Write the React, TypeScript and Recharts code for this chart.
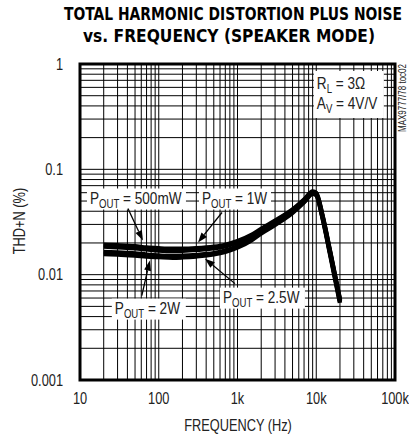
import React from 'react';
import { LineChart, Line, XAxis, YAxis, CartesianGrid, ReferenceArea, ReferenceDot } from 'recharts';

const freqHz = [20, 30, 50, 70, 100, 150, 200, 300, 500, 700, 1000, 1500, 2000, 3000, 5000, 7000, 9000, 10000, 12000, 15000, 20000];
const thd500mW = [0.0192, 0.019, 0.0186, 0.0181, 0.0178, 0.0176, 0.0176, 0.0178, 0.0184, 0.0192, 0.0208, 0.0238, 0.0272, 0.0325, 0.0415, 0.0515, 0.0615, 0.0595, 0.0365, 0.0166, 0.0058];
const thd1W = [0.0185, 0.0182, 0.0178, 0.0174, 0.017, 0.0168, 0.0169, 0.0172, 0.0178, 0.0186, 0.0202, 0.0232, 0.0266, 0.0318, 0.0408, 0.0508, 0.0608, 0.0588, 0.036, 0.0163, 0.0057];
const thd2W = [0.0164, 0.0162, 0.0159, 0.0155, 0.0152, 0.015, 0.0151, 0.0154, 0.016, 0.0169, 0.0186, 0.0217, 0.0252, 0.0303, 0.0393, 0.0493, 0.0594, 0.0575, 0.0353, 0.016, 0.0056];
const thd2p5W = [0.0157, 0.0155, 0.0152, 0.0149, 0.0147, 0.0145, 0.0146, 0.0149, 0.0156, 0.0165, 0.0181, 0.0212, 0.0247, 0.0297, 0.0387, 0.0487, 0.0588, 0.0569, 0.0347, 0.0156, 0.0054];

const xTicks = [10, 20, 30, 40, 50, 60, 70, 80, 90, 100, 200, 300, 400, 500, 600, 700, 800, 900, 1000, 2000, 3000, 4000, 5000, 6000, 7000, 8000, 9000, 10000, 20000, 30000, 40000, 50000, 60000, 70000, 80000, 90000, 100000];
const xLabels: Record<number, string> = { 10: '10', 100: '100', 1000: '1k', 10000: '10k', 100000: '100k' };
const yTicks = [0.001, 0.002, 0.003, 0.004, 0.005, 0.006, 0.007, 0.008, 0.009, 0.01, 0.02, 0.03, 0.04, 0.05, 0.06, 0.07, 0.08, 0.09, 0.1, 0.2, 0.3, 0.4, 0.5, 0.6, 0.7, 0.8, 0.9, 1];
const yLabels: Record<number, string> = { 0.001: '0.001', 0.01: '0.01', 0.1: '0.1', 1: '1' };

const data = freqHz.map((f, i) => ({ f, p500: thd500mW[i], p1: thd1W[i], p2: thd2W[i], p25: thd2p5W[i] }));

const FONT = "'Liberation Sans', Arial, sans-serif";
const TITLE_FONT = "'DejaVu Sans Condensed', sans-serif";
const SQUEEZE = 0.8;

// narrow text: Arial squeezed horizontally around its anchor point
const Narrow = ({ x, y, size, anchor = 'start', dy, children, rotate = 0 }: any) => (
  <text
    transform={`translate(${x},${y}) rotate(${rotate}) scale(${SQUEEZE},1)`}
    fontSize={size}
    fontFamily={FONT}
    textAnchor={anchor}
    dy={dy}
    fill="#222"
  >
    {children}
  </text>
);

const XTick = (props: any) => {
  const { x, y, payload } = props;
  const label = xLabels[payload.value];
  if (!label) return null;
  return <Narrow x={x} y={y} size={16} anchor="middle" dy="0.71em">{label}</Narrow>;
};

const YTick = (props: any) => {
  const { x, y, payload } = props;
  const label = yLabels[payload.value];
  if (!label) return null;
  return <Narrow x={x} y={y} size={16} anchor="end" dy="0.355em">{label}</Narrow>;
};

// callout: arrow from tail (relative to the data point) to the point, and a white-boxed label
const callout = (rest: string, tail: [number, number], text: [number, number], w: number) => (props: any) => {
  const { cx, cy } = props;
  const tx = cx + tail[0];
  const ty = cy + tail[1];
  const len = Math.hypot(cx - tx, cy - ty);
  const ux = (cx - tx) / len;
  const uy = (cy - ty) / len;
  const bx = cx - ux * 10;
  const by = cy - uy * 10;
  const lx = cx + text[0];
  const ly = cy + text[1];
  return (
    <g>
      <rect x={lx - 3} y={ly - 15} width={w + 6} height={21} fill="#fff" />
      <Narrow x={lx} y={ly} size={17}>
        <tspan>P</tspan>
        <tspan fontSize={12} dy={4}>OUT</tspan>
        <tspan dy={-4}>{' = ' + rest}</tspan>
      </Narrow>
      <line x1={tx} y1={ty} x2={bx} y2={by} stroke="#000" strokeWidth={1.3} />
      <polygon
        points={`${cx},${cy} ${bx - uy * 3.5},${by + ux * 3.5} ${bx + uy * 3.5},${by - ux * 3.5}`}
        fill="#000"
      />
    </g>
  );
};

const conditions = (props: any) => {
  const { cx, cy } = props;
  return (
    <g>
      <rect x={cx - 1} y={cy + 7} width={70} height={47} fill="#fff" />
      <Narrow x={cx + 2} y={cy + 25} size={17}>
        <tspan>R</tspan>
        <tspan fontSize={12} dy={4}>L</tspan>
        <tspan dy={-4}> = 3Ω</tspan>
      </Narrow>
      <Narrow x={cx + 2} y={cy + 45} size={17}>
        <tspan>A</tspan>
        <tspan fontSize={12} dy={4}>V</tspan>
        <tspan dy={-4}> = 4V/V</tspan>
      </Narrow>
    </g>
  );
};

export default function App() {
  return (
    <div style={{ position: 'absolute', left: 0, top: 0, width: 409, height: 441, background: '#fff' }}>
      <svg width={409} height={441} style={{ position: 'absolute', left: 0, top: 0 }}>
        <text transform="translate(233,20) scale(1,1.15)" textAnchor="middle" fontSize={15} fontWeight="bold" fontFamily={TITLE_FONT} textLength={338} lengthAdjust="spacingAndGlyphs" fill="#000">
          TOTAL HARMONIC DISTORTION PLUS NOISE
        </text>
        <text transform="translate(229,42) scale(1,1.15)" textAnchor="middle" fontSize={15} fontWeight="bold" fontFamily={TITLE_FONT} textLength={292} lengthAdjust="spacingAndGlyphs" fill="#000">
          vs. FREQUENCY (SPEAKER MODE)
        </text>
        <Narrow x={238} y={431} size={16} anchor="middle">FREQUENCY (Hz)</Narrow>
        <Narrow x={25} y={221} size={16} anchor="middle" rotate={-90}>THD+N (%)</Narrow>
        <Narrow x={406} y={64} size={10} anchor="end" rotate={-90}>MAX9777/78 toc02</Narrow>
      </svg>
      <div style={{ position: 'absolute', left: 0, top: 0 }}>
        <LineChart width={409} height={441} data={data} margin={{ top: 64, right: 14, bottom: 6, left: 0 }}>
          <CartesianGrid stroke="#000" strokeWidth={1} />
          <XAxis
            dataKey="f"
            type="number"
            scale="log"
            domain={[10, 100000]}
            ticks={xTicks}
            interval={0}
            height={55}
            axisLine={false}
            tickLine={false}
            tickSize={0}
            tickMargin={13}
            tick={<XTick />}
          />
          <YAxis
            type="number"
            scale="log"
            domain={[0.001, 1]}
            ticks={yTicks}
            interval={0}
            width={80}
            axisLine={false}
            tickLine={false}
            tickSize={0}
            tickMargin={17}
            tick={<YTick />}
          />
          <Line dataKey="p500" stroke="#000" strokeWidth={4.5} dot={false} type="monotone" isAnimationActive={false} />
          <Line dataKey="p1" stroke="#000" strokeWidth={4.5} dot={false} type="monotone" isAnimationActive={false} />
          <Line dataKey="p2" stroke="#000" strokeWidth={4.5} dot={false} type="monotone" isAnimationActive={false} />
          <Line dataKey="p25" stroke="#000" strokeWidth={4.5} dot={false} type="monotone" isAnimationActive={false} />
          <ReferenceArea x1={10} x2={100000} y1={0.001} y2={1} fill="none" stroke="#000" strokeWidth={3} />
          <ReferenceDot x={63} y={0.0211} shape={callout('500mW', [-15, -32], [-53, -37], 93)} />
          <ReferenceDot x={315} y={0.0202} shape={callout('1W', [24, -30], [4, -39], 66)} />
          <ReferenceDot x={77} y={0.0136} shape={callout('2W', [-8, 35], [-35, 53], 68)} />
          <ReferenceDot x={386} y={0.0142} shape={callout('2.5W', [30, 25], [18, 44], 79)} />
          <ReferenceDot x={9600} y={1} shape={conditions} />
        </LineChart>
      </div>
    </div>
  );
}
